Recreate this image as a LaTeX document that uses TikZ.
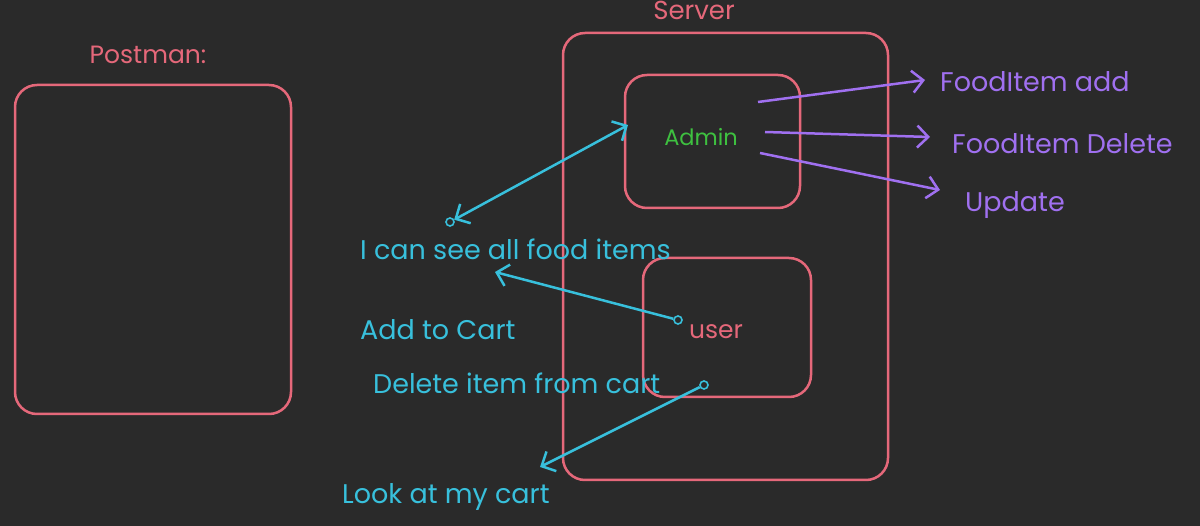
\documentclass[tikz,border=0pt]{standalone}
\usepackage{fontspec}
\setmainfont{Poppins}
\usetikzlibrary{arrows.meta}
\definecolor{bg}{HTML}{2A2A2A}
\definecolor{pinkc}{HTML}{E5687A}
\definecolor{purp}{HTML}{A070F0}
\definecolor{cyanc}{HTML}{38C0DC}
\definecolor{greenc}{HTML}{3EC040}
\tikzset{
  box/.style={draw=pinkc,line width=2.5pt,rounded corners=22pt,inner sep=0pt},
  lbl/.style={font=\fontsize{27}{30}\selectfont,inner sep=0pt,anchor=west},
  barb/.tip={Straight Barb[length=11pt,width=22pt,line width=2.5pt]},
  parr/.style={draw=purp,line width=2.5pt,-barb},
  carr/.style={draw=cyanc,line width=2.5pt,-barb},
  dot/.style={circle,draw=cyanc,line width=1.6pt,minimum size=8pt,inner sep=0pt},
}
\begin{document}
\begin{tikzpicture}[x=1pt,y=-1pt]
\fill[bg] (0,0) rectangle (1200,526);
\useasboundingbox (0,0) rectangle (1200,526);
% boxes
\node[box,minimum width=276pt,minimum height=329pt] (postman) at (153,249.5) {};
\node[box,minimum width=325pt,minimum height=447pt] (server) at (725.5,256.5) {};
\node[box,minimum width=175pt,minimum height=133pt] (admin) at (712.5,141.5) {};
\node[box,minimum width=168pt,minimum height=139pt] (user) at (727,327.5) {};
% titles
\node[lbl,font=\fontsize{25}{28}\selectfont,text=pinkc,anchor=center] (tpost) at (148,55) {Postman:};
\node[lbl,font=\fontsize{26}{28}\selectfont,text=pinkc,anchor=center] (tserv) at (694,10) {Server};
\node[lbl,font=\fontsize{22.5}{26}\selectfont,text=greenc,anchor=center] (tadmin) at (701,137) {Admin};
\node[lbl,font=\fontsize{25}{28}\selectfont,text=pinkc,anchor=center] (tuser) at (716,332) {user};
% purple targets
\node[lbl,text=purp] (fadd) at (940,82) {FoodItem add};
\node[lbl,text=purp] (fdel) at (952,144) {FoodItem Delete};
\node[lbl,text=purp] (upd) at (965,205) {Update};
% cyan texts
\node[lbl,text=cyanc] (see) at (360,249) {I can see all food items};
\node[lbl,text=cyanc] (add) at (360,330) {Add to Cart};
\node[lbl,text=cyanc] (delc) at (373,383) {Delete item from cart};
\node[lbl,text=cyanc] (look) at (342,497) {Look at my cart};
% coordinates
\coordinate (p1) at (758,102);
\coordinate (p1e) at (925,80);
\coordinate (p2) at (765,132);
\coordinate (p2e) at (930,137);
\coordinate (p3) at (760,153);
\coordinate (p3e) at (940,190);
\node[dot] (d1) at (450,222) {};
\coordinate (d1e) at (628,125);
\node[dot] (d2) at (678,320) {};
\coordinate (d2e) at (495,272);
\node[dot] (d3) at (704,385) {};
\coordinate (d3e) at (540,467);
% arrows
\draw[parr] (p1) -- (p1e);
\draw[parr] (p2) -- (p2e);
\draw[parr] (p3) -- (p3e);
\draw[carr,barb-barb] (d1) -- (d1e);
\draw[carr] (d2) -- (d2e);
\draw[carr] (d3) -- (d3e);
\end{tikzpicture}
\end{document}
